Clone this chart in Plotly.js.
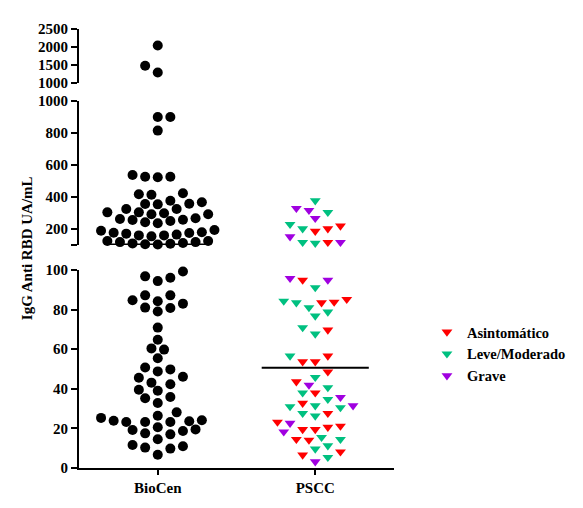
<!DOCTYPE html>
<html>
<head>
<meta charset="utf-8">
<script src="https://cdn.plot.ly/plotly-3.0.1.min.js"></script>
<style>html,body{margin:0;padding:0;background:#fff;}#chart{width:583px;height:508px;}</style>
</head>
<body>
<div id="chart"></div>
<script>
// ---------- data ----------
const categories = ['BioCen', 'PSCC'];
const bioCen = [
  2040, 1480, 1290,
  900, 900, 815, 537, 527, 523, 527, 417, 414, 423, 358, 377, 354, 356, 367,
  325, 325, 304, 292, 292, 298, 304, 262, 256, 242, 236, 250, 258, 267,
  175, 171, 154, 194, 189, 160, 160, 177, 165, 180,
  125, 118, 110, 105, 103, 108, 112, 118, 125,
  96.8, 94.4, 96.1, 99.2, 84.2, 87.2, 87.2, 84.7, 81, 79, 80.8, 83, 70.9, 64.8,
  59.8, 60.4, 55.4, 48.8, 50.8, 49.8, 45.6, 46.1, 42.3, 43.1, 39, 39.5, 35.2,
  35.9, 32.8, 28.1, 25.3, 26.4, 23.9, 23.2, 23.2, 23.2, 23.6, 24.1, 19.5, 18.7,
  19.2, 20.6, 17, 17.5, 14.5, 11.6, 11, 10.3, 9.8, 6.7
];
const asintomatico = [
  202, 219, 186, 117,
  94.9, 85.2, 83.8, 83.5, 69.7, 56.6, 53.7, 53.7, 48.6, 43.6, 38, 32.7, 27.6,
  23.2, 21.2, 19.5, 19.5, 20.6, 14.5, 14.1, 6.6, 8.2
];
const leveModerado = [
  377, 304, 229, 202, 111, 117,
  91.1, 83.5, 84.3, 81, 78.8, 76.8, 70.9, 67.7, 56.6, 45.8, 40.6, 38, 34.7,
  30.5, 31, 31.5, 27.6, 26.3, 14.5, 15.5, 9.6, 11.3, 5.4
];
const grave = [
  329, 317, 267, 152, 117,
  95.8, 94.9, 41.9, 35.7, 31.5, 22.6, 18.3, 3.2
];
const groupNames = ['Asintomático', 'Leve/Moderado', 'Grave'];
const medians = [103, 50.6];
const bottomTicks = [0, 20, 40, 60, 80, 100];
const middleTicks = [100, 200, 400, 600, 800, 1000];
const middleTickText = ['', '200', '400', '600', '800', '1000'];
const topTicks = [1000, 1500, 2000, 2500];

// ---------- layout geometry ----------
const W = 583, H = 508;
const M = {l: 79, r: 179, t: 29, b: 40};
const plotH = H - M.t - M.b, plotW = W - M.l - M.r;
const segs = [
  {axis: 'y',  range: [0, 100],     domain: [0, 198 / plotH]},
  {axis: 'y2', range: [100, 1000],  domain: [223 / plotH, 367 / plotH]},
  {axis: 'y3', range: [1000, 2500], domain: [385 / plotH, 1]}
];
const xRange = [0.5, 2.5];
const pxPerX = plotW / (xRange[1] - xRange[0]);

function segIndex(v) { return v <= 100 ? 0 : (v <= 1000 ? 1 : 2); }
function pixY(v) {
  const s = segs[segIndex(v)];
  const f = (v - s.range[0]) / (s.range[1] - s.range[0]);
  return H - M.b - plotH * (s.domain[0] + (s.domain[1] - s.domain[0]) * f);
}

// simple beeswarm: grid of half-diameter columns, nearest free slot
function swarm(values, center) {
  const STEP = 6.5, D = 10;
  const items = values.map((v, i) => ({v, i, py: pixY(v)}));
  items.sort((a, b) => a.v - b.v);
  const placed = [];
  const offs = new Array(values.length).fill(0);
  let flip = 1;
  for (const it of items) {
    for (let k = 0; k < 60; k++) {
      const cands = k === 0 ? [0] : [flip * k, -flip * k];
      let found = null;
      for (const c of cands) {
        const px = c * STEP;
        if (placed.every(p => (p.px - px) ** 2 + (p.py - it.py) ** 2 >= D * D)) { found = px; break; }
      }
      if (found !== null) {
        offs[it.i] = found;
        placed.push({px: found, py: it.py});
        if (found !== 0) flip = -flip;
        break;
      }
    }
  }
  return offs.map(o => center + o / pxPerX);
}

const traces = [];
const serifFont = {family: 'Liberation Serif, Times New Roman, serif', size: 15, color: '#000', weight: 'bold'};

// BioCen
const bioX = swarm(bioCen, 1);
segs.forEach((s, si) => {
  const xs = [], ys = [];
  bioCen.forEach((v, i) => { if (segIndex(v) === si) { xs.push(bioX[i]); ys.push(v); } });
  traces.push({
    x: xs, y: ys, yaxis: s.axis, type: 'scatter', mode: 'markers', showlegend: false,
    cliponaxis: false, hoverinfo: 'y',
    marker: {symbol: 'circle', size: 10, color: '#000'}
  });
});

// PSCC groups (swarm computed jointly)
const groups = [asintomatico, leveModerado, grave];
const colors = ['#ff0000', '#00c080', '#a000e0'];
const allP = [].concat(...groups);
const allPX = swarm(allP, 2);
let idx = 0;
groups.forEach((g, gi) => {
  const gx = allPX.slice(idx, idx + g.length);
  idx += g.length;
  let shown = false;
  segs.forEach((s, si) => {
    const xs = [], ys = [];
    g.forEach((v, i) => { if (segIndex(v) === si) { xs.push(gx[i]); ys.push(v); } });
    if (!xs.length) return;
    traces.push({
      x: xs, y: ys, yaxis: s.axis, type: 'scatter', mode: 'markers',
      name: groupNames[gi], legendgroup: groupNames[gi], showlegend: !shown,
      cliponaxis: false, hoverinfo: 'y',
      marker: {symbol: 'triangle-down', size: 9.5, color: colors[gi]}
    });
    shown = true;
  });
});

// median lines
medians.forEach((m, ci) => {
  traces.push({
    x: [ci + 1 - 0.34, ci + 1 + 0.34], y: [m, m], yaxis: segs[segIndex(m)].axis,
    type: 'scatter', mode: 'lines', showlegend: false, cliponaxis: false, hoverinfo: 'skip',
    line: {color: '#000', width: 2}
  });
});

function yAx(s, tv, tt) {
  return {
    domain: s.domain, range: s.range, anchor: 'x', showgrid: false, zeroline: false,
    showline: true, linecolor: '#000', linewidth: 2,
    ticks: 'outside', ticklen: 6, tickwidth: 2, tickcolor: '#000',
    tickmode: 'array', tickvals: tv, ticktext: tt || tv.map(String),
    tickfont: serifFont, fixedrange: true
  };
}

const layout = {
  width: W, height: H, margin: M,
  paper_bgcolor: '#fff', plot_bgcolor: 'rgba(0,0,0,0)',
  font: serifFont,
  showlegend: true,
  legend: {
    x: (438 - M.l) / plotW, xanchor: 'left', y: (H - M.b - 316) / plotH, yanchor: 'top',
    font: Object.assign({}, serifFont, {size: 14.5}), bgcolor: 'rgba(0,0,0,0)', borderwidth: 0,
    itemwidth: 30, tracegroupgap: 0
  },
  xaxis: {
    range: xRange, anchor: 'y', showgrid: false, zeroline: false,
    showline: true, linecolor: '#000', linewidth: 2,
    ticks: 'outside', ticklen: 5, tickwidth: 2, tickcolor: '#000',
    tickmode: 'array', tickvals: [1, 2], ticktext: categories,
    tickfont: serifFont, fixedrange: true
  },
  yaxis: yAx(segs[0], bottomTicks),
  yaxis2: yAx(segs[1], middleTicks, middleTickText),
  yaxis3: yAx(segs[2], topTicks),
  annotations: [{
    text: 'IgG Anti RBD UA/mL', textangle: -90, showarrow: false,
    xref: 'paper', yref: 'paper', x: (25 - M.l) / plotW, y: 0.5,
    xanchor: 'center', yanchor: 'middle', font: serifFont
  }]
};

Plotly.newPlot('chart', traces, layout, {displayModeBar: false, staticPlot: true});
</script>
</body>
</html>
